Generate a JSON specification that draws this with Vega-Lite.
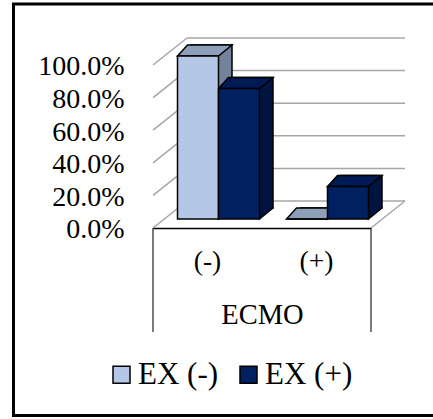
{
  "$schema": "https://vega.github.io/schema/vega-lite/v6.json",
  "width": 423.5,
  "height": 411.5,
  "autosize": {"type": "none"},
  "padding": {"left": 13.5, "top": 4, "right": -4, "bottom": 3.5},
  "background": "white",
  "config": {
    "view": {"stroke": "black", "strokeWidth": 3},
    "font": "Liberation Serif"
  },
  "datasets": {
    "bars": [
      {"ecmo": "(-)", "ex": "EX (-)", "pct": 1.0},
      {"ecmo": "(-)", "ex": "EX (+)", "pct": 0.8},
      {"ecmo": "(+)", "ex": "EX (-)", "pct": 0.0},
      {"ecmo": "(+)", "ex": "EX (+)", "pct": 0.2}
    ],
    "grid": [{"v": 0}, {"v": 0.2}, {"v": 0.4}, {"v": 0.6}, {"v": 0.8}, {"v": 1.0}],
    "one": [{}]
  },
  "layer": [
    {
      "description": "back wall gridlines",
      "data": {"name": "grid"},
      "mark": {"type": "rule", "color": "#A6A6A6", "strokeWidth": 1.5, "xOffset": 34, "x2Offset": 34, "yOffset": -27},
      "encoding": {
        "x": {"datum": "(-)", "type": "nominal", "bandPosition": 0, "axis": null,
              "scale": {"domain": ["(-)", "(+)"], "range": [139.5, 357.5], "paddingInner": 0, "paddingOuter": 0}},
        "x2": {"datum": "(+)", "bandPosition": 1},
        "y": {"field": "v", "type": "quantitative", "axis": null,
              "scale": {"domain": [-1.15031, 1.37423], "nice": false, "zero": false}}
      }
    },
    {
      "description": "side wall diagonals",
      "data": {"name": "grid"},
      "mark": {"type": "rule", "color": "#A6A6A6", "strokeWidth": 1.5, "x2Offset": 34, "y2Offset": -27},
      "encoding": {
        "x": {"datum": "(-)", "type": "nominal", "bandPosition": 0, "axis": null},
        "x2": {"datum": "(-)", "bandPosition": 0},
        "y": {"field": "v", "type": "quantitative", "axis": null},
        "y2": {"field": "v"}
      }
    },
    {
      "description": "right floor edge",
      "data": {"name": "one"},
      "mark": {"type": "rule", "color": "#A6A6A6", "strokeWidth": 1.5, "x2Offset": 34, "y2Offset": -27},
      "encoding": {
        "x": {"datum": "(+)", "type": "nominal", "bandPosition": 1, "axis": null},
        "x2": {"datum": "(+)", "bandPosition": 1},
        "y": {"datum": 0, "type": "quantitative", "axis": null},
        "y2": {"datum": 0}
      }
    },
    {
      "description": "category box, left side",
      "data": {"name": "one"},
      "mark": {"type": "rule", "color": "#222222", "strokeWidth": 1.2},
      "encoding": {
        "x": {"datum": "(-)", "type": "nominal", "bandPosition": 0, "axis": null},
        "y": {"datum": 0, "type": "quantitative", "axis": null},
        "y2": {"datum": -0.638}
      }
    },
    {
      "description": "category box, right side",
      "data": {"name": "one"},
      "mark": {"type": "rule", "color": "#222222", "strokeWidth": 1.2},
      "encoding": {
        "x": {"datum": "(+)", "type": "nominal", "bandPosition": 1, "axis": null},
        "y": {"datum": 0, "type": "quantitative", "axis": null},
        "y2": {"datum": -0.638}
      }
    },
    {
      "description": "bar side faces (back box, pushed one bar-depth back)",
      "data": {"name": "bars"},
      "mark": {"type": "bar", "stroke": "black", "strokeWidth": 1.5, "yOffset": -20, "y2Offset": -20},
      "encoding": {
        "x": {"field": "ecmo", "type": "nominal", "axis": null},
        "xOffset": {"field": "ex", "type": "nominal",
                    "scale": {"domain": ["EX (-)", "EX (+)"], "range": [38, 120], "paddingInner": 0, "paddingOuter": 0}},
        "y": {"field": "pct", "type": "quantitative", "stack": null, "axis": null},
        "y2": {"datum": 0},
        "fill": {"field": "ex", "type": "nominal", "legend": null,
                 "scale": {"domain": ["EX (-)", "EX (+)"], "range": ["#74839C", "#00143F"]}}
      }
    },
    {
      "description": "lower corner of the side faces",
      "data": {"name": "bars"},
      "mark": {"type": "point", "shape": "M41,-12.5L41,0L54.5,-11L54.5,-12.5", "size": 4,
               "filled": true, "opacity": 1, "stroke": "black", "strokeWidth": 1.5, "yOffset": -9},
      "encoding": {
        "x": {"field": "ecmo", "type": "nominal", "axis": null},
        "xOffset": {"field": "ex", "type": "nominal",
                    "scale": {"type": "point", "domain": ["EX (-)", "EX (+)"], "range": [24.5, 65.5], "padding": 0}},
        "y": {"datum": 0, "type": "quantitative", "axis": null},
        "fill": {"field": "ex", "type": "nominal", "legend": null,
                 "scale": {"domain": ["EX (-)", "EX (+)"], "range": ["#74839C", "#00143F"]}}
      }
    },
    {
      "description": "bar top faces",
      "data": {"name": "bars"},
      "mark": {"type": "point", "shape": "M0,0L41,0L54.5,-11L10,-11Z", "size": 4,
               "filled": true, "opacity": 1, "stroke": "black", "strokeWidth": 1.5, "yOffset": -9},
      "encoding": {
        "x": {"field": "ecmo", "type": "nominal", "axis": null},
        "xOffset": {"field": "ex", "type": "nominal",
                    "scale": {"type": "point", "domain": ["EX (-)", "EX (+)"], "range": [24.5, 65.5], "padding": 0}},
        "y": {"field": "pct", "type": "quantitative", "axis": null},
        "fill": {"field": "ex", "type": "nominal", "legend": null,
                 "scale": {"domain": ["EX (-)", "EX (+)"], "range": ["#8E9FBA", "#001A55"]}}
      }
    },
    {
      "description": "bar front faces",
      "data": {"name": "bars"},
      "mark": {"type": "bar", "stroke": "black", "strokeWidth": 1.5, "yOffset": -9, "y2Offset": -9},
      "encoding": {
        "x": {"field": "ecmo", "type": "nominal", "title": "ECMO",
              "axis": {"labelAngle": 0, "labelFont": "Liberation Serif", "labelFontSize": 27.5,
                       "labelColor": "black", "labelBaseline": "alphabetic", "labelPadding": 41,
                       "domain": true, "domainColor": "black", "domainWidth": 1.5,
                       "ticks": false, "grid": false, "offset": -187.5,
                       "titleFont": "Liberation Serif", "titleFontSize": 28.5, "titleFontWeight": "normal",
                       "titleColor": "black", "titleBaseline": "alphabetic", "titleY": 95}},
        "xOffset": {"field": "ex", "type": "nominal",
                    "scale": {"domain": ["EX (-)", "EX (+)"], "range": [24.5, 106.5], "paddingInner": 0, "paddingOuter": 0}},
        "y": {"field": "pct", "type": "quantitative", "stack": null, "title": null,
              "axis": {"values": [0, 0.2, 0.4, 0.6, 0.8, 1.0], "format": ".1%",
                       "labelFont": "Liberation Serif", "labelFontSize": 28, "labelColor": "black",
                       "labelBaseline": "middle", "labelPadding": 0, "labelOffset": 2,
                       "domain": false, "ticks": false, "grid": false, "offset": -110.5}},
        "y2": {"datum": 0},
        "fill": {"field": "ex", "type": "nominal",
                 "scale": {"domain": ["EX (-)", "EX (+)"], "range": ["#B4C7E7", "#002060"]},
                 "legend": {"title": null, "orient": "none", "legendX": 92.5, "legendY": 355,
                            "direction": "horizontal", "symbolType": "square", "symbolSize": 289,
                            "symbolStrokeColor": "black", "symbolStrokeWidth": 1.5,
                            "labelFont": "Liberation Serif", "labelFontSize": 31, "labelColor": "black",
                            "labelBaseline": "middle", "labelOffset": 1, "columnPadding": 14}}
      }
    }
  ],
  "resolve": {
    "scale": {"fill": "independent", "xOffset": "independent"},
    "legend": {"fill": "independent"},
    "axis": {"x": "independent", "y": "independent"}
  }
}
